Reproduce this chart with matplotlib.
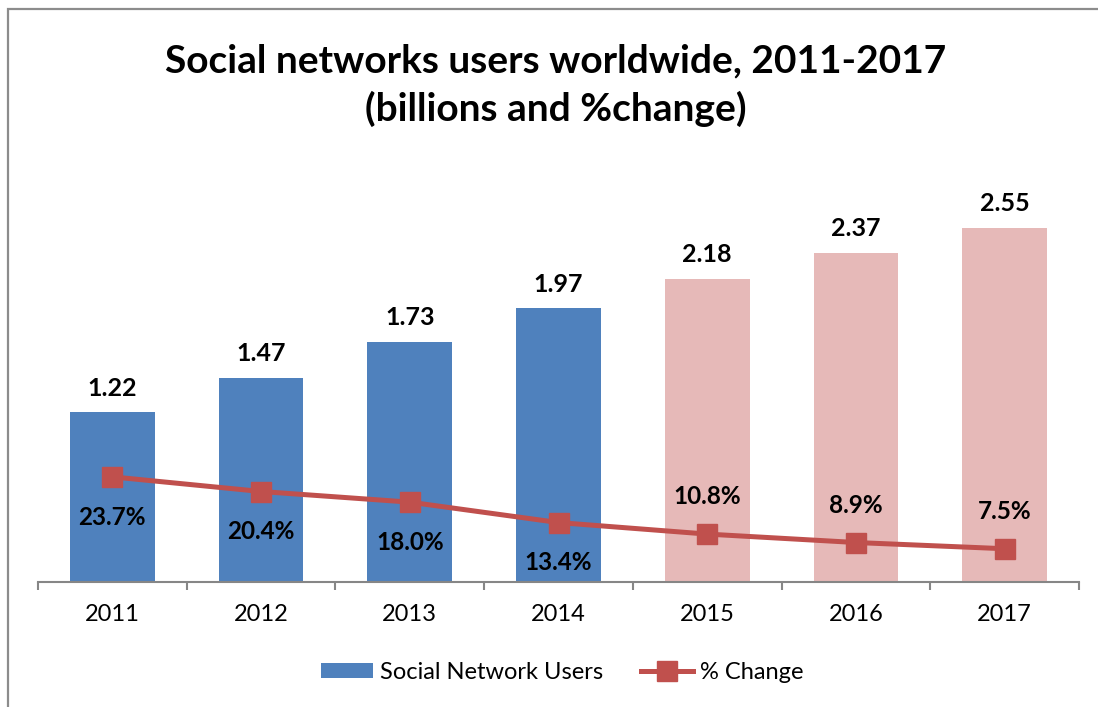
import matplotlib.pyplot as plt
from matplotlib.patches import Rectangle
from matplotlib.lines import Line2D
from matplotlib.patches import Patch

plt.rcParams['font.family'] = ['Lato', 'DejaVu Sans']

# data
years = ['2011', '2012', '2013', '2014', '2015', '2016', '2017']
users = [1.22, 1.47, 1.73, 1.97, 2.18, 2.37, 2.55]
pct_change = [23.7, 20.4, 18.0, 13.4, 10.8, 8.9, 7.5]
is_forecast = [False, False, False, False, True, True, True]

blue = '#4F81BD'
pink = '#E6B9B8'
red = '#C0504D'
grey = '#868686'

fig = plt.figure(figsize=(10.98, 7.07), dpi=100)

# chart frame
fig.patches.append(Rectangle((8 / 1098, -0.1), 1.2, (707 - 9) / 707 + 0.1,
                             transform=fig.transFigure, fill=False,
                             edgecolor='#8C8C8C', linewidth=1.6))

ax = fig.add_axes([38 / 1098, 125 / 707, 1041 / 1098, 417 / 707])
x = list(range(len(years)))
colors = [pink if f else blue for f in is_forecast]
bars = ax.bar(x, users, width=0.57, color=colors, zorder=2)
ax.set_xlim(-0.5, len(years) - 0.5)
ax.set_ylim(0, 3.0)

for xi, v in zip(x, users):
    ax.annotate(f'{v:.2f}', (xi, v), xytext=(0, 9), textcoords='offset points',
                ha='center', va='bottom', fontsize=18, fontweight='bold')

# hide everything except the bottom axis
for s in ['top', 'right', 'left']:
    ax.spines[s].set_visible(False)
ax.spines['bottom'].set_color(grey)
ax.spines['bottom'].set_linewidth(1.5)
ax.set_yticks([])
ax.set_xticks([i - 0.5 for i in range(len(years) + 1)], minor=False)
ax.set_xticklabels([])
ax.set_xticks(x, minor=True)
ax.set_xticklabels(years, minor=True, fontsize=17)
ax.tick_params(axis='x', which='major', length=6, width=1.5, color=grey, direction='out')
ax.tick_params(axis='x', which='minor', length=0, pad=16)

# percent change on a hidden secondary axis
ax2 = ax.twinx()
ax2.set_ylim(0, 94)
ax2.plot(x, pct_change, color=red, linewidth=3.6, marker='s', markersize=14,
         zorder=3)
ax2.axis('off')
for xi, v, f in zip(x, pct_change, is_forecast):
    off = 27 if f else -29
    ax2.annotate(f'{v:.1f}%', (xi, v), xytext=(0, off), textcoords='offset points',
                 ha='center', va='center', fontsize=17.5, fontweight='bold')

fig.text(0.506, 0.897, 'Social networks users worldwide, 2011-2017',
         ha='center', va='baseline', fontsize=28, fontweight='bold')
fig.text(0.506, 0.829, '(billions and %change)',
         ha='center', va='baseline', fontsize=28, fontweight='bold')

handles = [Patch(facecolor=blue, label='Social Network Users'),
           Line2D([0], [0], color=red, linewidth=3.6, marker='s', markersize=14,
                  label='% Change')]
fig.legend(handles=handles, loc='center', bbox_to_anchor=(0.512, 0.049), ncol=2,
           frameon=False, fontsize=17, handlelength=2.2, handleheight=0.65,
           columnspacing=1.6, handletextpad=0.3)

fig.savefig('out.png', dpi=100)
